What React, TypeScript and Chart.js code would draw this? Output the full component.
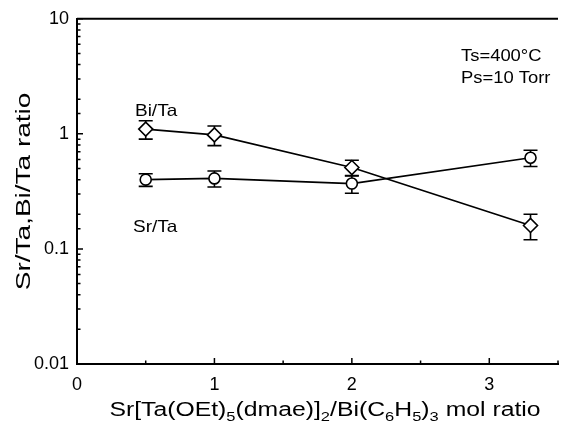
import React, { useEffect, useRef } from 'react';
import { Chart, registerables } from 'chart.js';

Chart.register(...registerables);

// ---- data ----
const xRatio = [0.5, 1, 2, 3.3];
const biTa = [1.1, 0.98, 0.51, 0.16];
const biTaErr = [0.2, 0.19, 0.08, 0.04];
const srTa = [0.4, 0.41, 0.37, 0.62];
const srTaErr = [0.05, 0.065, 0.065, 0.1];
const xTickLabels = [0, 1, 2, 3];
const yTickLabels = [0.01, 0.1, 1, 10];
const seriesNames = ['Bi/Ta', 'Sr/Ta'];
const conditions = ['Ts=400°C', 'Ps=10 Torr'];
const yTitle = 'Sr/Ta,Bi/Ta ratio';
const xTitleParts: [string, boolean][] = [
  ['Sr[Ta(OEt)', false],
  ['5', true],
  ['(dmae)]', false],
  ['2', true],
  ['/Bi(C', false],
  ['6', true],
  ['H', false],
  ['5', true],
  [')', false],
  ['3', true],
  [' mol ratio', false],
];

const FONT = '"Liberation Sans", Arial, Helvetica, sans-serif';

function isDecade(v: number) {
  const l = Math.log10(v);
  return Math.abs(l - Math.round(l)) < 1e-6;
}

function drawStretched(ctx: CanvasRenderingContext2D, text: string, x: number, y: number, size: number, sx: number) {
  ctx.save();
  ctx.font = `${size}px ${FONT}`;
  const w = ctx.measureText(text).width * sx;
  ctx.translate(x, y);
  ctx.scale(sx, 1);
  ctx.textAlign = 'left';
  ctx.textBaseline = 'alphabetic';
  ctx.fillStyle = '#000';
  ctx.fillText(text, 0, 0);
  ctx.restore();
  return w;
}

function measureStretched(ctx: CanvasRenderingContext2D, text: string, size: number, sx: number) {
  ctx.save();
  ctx.font = `${size}px ${FONT}`;
  const w = ctx.measureText(text).width * sx;
  ctx.restore();
  return w;
}

const errorBarPlugin = {
  id: 'errorBars',
  beforeDatasetsDraw(chart: any) {
    const ctx: CanvasRenderingContext2D = chart.ctx;
    const xs = chart.scales.x;
    const ys = chart.scales.y;
    const sets = [
      { vals: biTa, errs: biTaErr },
      { vals: srTa, errs: srTaErr },
    ];
    ctx.save();
    ctx.strokeStyle = '#000';
    ctx.lineWidth = 1.6;
    sets.forEach((s) => {
      xRatio.forEach((xv, j) => {
        const px = xs.getPixelForValue(xv);
        const hi = ys.getPixelForValue(s.vals[j] + s.errs[j]);
        const lo = ys.getPixelForValue(s.vals[j] - s.errs[j]);
        ctx.beginPath();
        ctx.moveTo(px, hi);
        ctx.lineTo(px, lo);
        ctx.moveTo(px - 7, hi);
        ctx.lineTo(px + 7, hi);
        ctx.moveTo(px - 7, lo);
        ctx.lineTo(px + 7, lo);
        ctx.stroke();
      });
    });
    ctx.restore();
  },
};

const framePlugin = {
  id: 'frameAndText',
  afterDraw(chart: any) {
    const ctx: CanvasRenderingContext2D = chart.ctx;
    const { left, right, top, bottom } = chart.chartArea;
    const xs = chart.scales.x;
    const ys = chart.scales.y;
    ctx.save();
    ctx.strokeStyle = '#000';
    // top line
    ctx.lineWidth = 2;
    ctx.beginPath();
    ctx.moveTo(left, top);
    ctx.lineTo(right, top);
    ctx.stroke();
    // inward ticks
    ctx.lineWidth = 1.5;
    ctx.beginPath();
    ys.ticks.forEach((t: any) => {
      const py = ys.getPixelForValue(t.value);
      const len = isDecade(t.value) ? 6 : 3.5;
      ctx.moveTo(left, py);
      ctx.lineTo(left + len, py);
    });
    xs.ticks.forEach((t: any) => {
      const px = xs.getPixelForValue(t.value);
      const len = Number.isInteger(t.value) ? 6 : 3.5;
      ctx.moveTo(px, bottom);
      ctx.lineTo(px, bottom - len);
    });
    ctx.stroke();
    ctx.restore();

    // y title (rotated, stretched)
    ctx.save();
    ctx.font = `20px ${FONT}`;
    ctx.translate(30, (top + bottom) / 2);
    ctx.rotate(-Math.PI / 2);
    ctx.scale(1.4, 1);
    ctx.textAlign = 'center';
    ctx.textBaseline = 'alphabetic';
    ctx.fillStyle = '#000';
    ctx.fillText(yTitle, 0, 0);
    ctx.restore();

    // x title with subscripts
    const mainSize = 19.5;
    const subSize = 13;
    const sx = 1.27;
    let total = 0;
    xTitleParts.forEach(([t, sub]) => {
      total += measureStretched(ctx, t, sub ? subSize : mainSize, sx);
    });
    let cx = 325 - total / 2;
    const base = 415.5;
    xTitleParts.forEach(([t, sub]) => {
      cx += drawStretched(ctx, t, cx, sub ? base + 5 : base, sub ? subSize : mainSize, sx);
    });

    // annotations
    drawStretched(ctx, seriesNames[0], 135, 115.5, 16.5, 1.15);
    drawStretched(ctx, seriesNames[1], 133, 231.5, 16.5, 1.15);
    drawStretched(ctx, conditions[0], 461, 61, 16, 1.15);
    drawStretched(ctx, conditions[1], 461, 83, 16, 1.15);
  },
};

export default function App() {
  const ref = useRef<HTMLCanvasElement | null>(null);
  useEffect(() => {
    if (!ref.current) return;
    const chart = new Chart(ref.current, {
      type: 'line',
      data: {
        datasets: [
          {
            label: seriesNames[0],
            data: xRatio.map((x, i) => ({ x, y: biTa[i] })),
            borderColor: '#000',
            borderWidth: 1.7,
            pointStyle: 'rectRot',
            pointRadius: 7,
            pointBorderWidth: 1.6,
            pointBackgroundColor: '#fff',
            pointBorderColor: '#000',
            tension: 0,
            fill: false,
          },
          {
            label: seriesNames[1],
            data: xRatio.map((x, i) => ({ x, y: srTa[i] })),
            borderColor: '#000',
            borderWidth: 1.7,
            pointStyle: 'circle',
            pointRadius: 5.5,
            pointBorderWidth: 1.6,
            pointBackgroundColor: '#fff',
            pointBorderColor: '#000',
            tension: 0,
            fill: false,
          },
        ],
      },
      options: {
        animation: false,
        responsive: false,
        devicePixelRatio: 1,
        layout: { padding: { top: 14, right: 1, left: 0, bottom: 0 } },
        plugins: { legend: { display: false }, tooltip: { enabled: false } },
        events: [],
        scales: {
          x: {
            type: 'linear',
            min: 0,
            max: 3.5,
            grid: { display: false, drawTicks: false },
            border: { display: true, color: '#000', width: 2 },
            ticks: {
              stepSize: 0.5,
              autoSkip: false,
              maxRotation: 0,
              padding: 10,
              color: '#000',
              font: { size: 18, family: FONT },
              callback: (v: any) => (xTickLabels.includes(Number(v)) ? String(v) : ''),
            },
            afterFit: (s: any) => {
              s.height = 66;
            },
          },
          y: {
            type: 'logarithmic',
            min: 0.01,
            max: 10,
            grid: { display: false, drawTicks: false },
            border: { display: true, color: '#000', width: 2 },
            ticks: {
              autoSkip: false,
              padding: 8,
              color: '#000',
              font: { size: 18, family: FONT },
              callback: (v: any) => {
                const n = Number(v);
                const match = yTickLabels.find((t) => Math.abs(Math.log10(t) - Math.log10(n)) < 1e-6);
                if (match === undefined) return '';
                return match >= 1 ? String(match) : match.toFixed(Math.round(-Math.log10(match)));
              },
            },
            afterFit: (s: any) => {
              s.width = 77;
            },
          },
        },
      } as any,
      plugins: [errorBarPlugin, framePlugin],
    });
    return () => chart.destroy();
  }, []);
  return (
    <div style={{ position: 'fixed', left: 0, top: 0, width: 568, height: 430, background: '#fff' }}>
      <canvas ref={ref} width={568} height={430} style={{ display: 'block' }} />
    </div>
  );
}
